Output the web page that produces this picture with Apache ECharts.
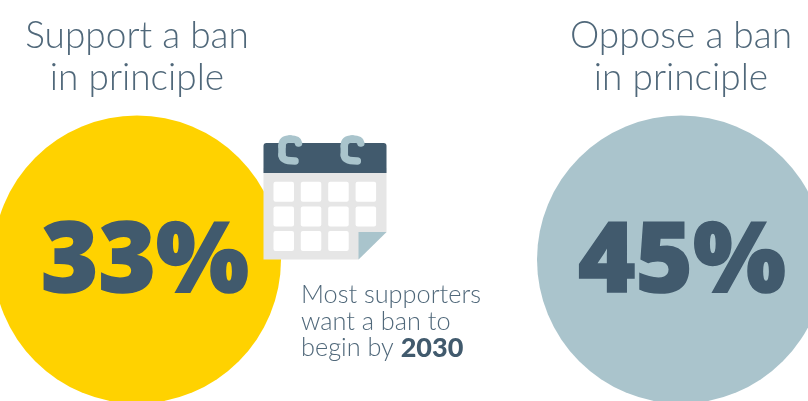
<!DOCTYPE html>
<html>
<head>
<meta charset="utf-8">
<style>
  html, body { margin: 0; padding: 0; background: #fff; }
  #main { width: 808px; height: 401px; }
</style>
<script src="https://cdn.jsdelivr.net/npm/echarts@6/dist/echarts.min.js"></script>
</head>
<body>
<div id="main"></div>
<script>
const headings = ['Support a ban\nin principle', 'Oppose a ban\nin principle']
const shares = [33, 45]
const noteLines = ['Most supporters', 'want a ban to']
const noteLast = 'begin by '
const noteYear = '2030'

const colors = ['#ffd200', '#aac4cc']
const dark = '#415a6d'
const thin = '#50687a'
const ringColor = '#a9c4cc'

const chart = echarts.init(document.getElementById('main'), null, { renderer: 'canvas' })

const circle = (i, cx) => ({
  type: 'pie',
  center: [cx, 259.5],
  radius: [0, 144],
  silent: true,
  z: 1,
  itemStyle: { color: colors[i] },
  label: { show: false },
  labelLine: { show: false },
  data: [{ name: headings[i], value: shares[i] }],
})

const heading = (i, cx) => ({
  text: headings[i],
  left: cx,
  top: 15,
  padding: 0,
  textAlign: 'center',
  textStyle: {
    fontFamily: 'Lato',
    fontWeight: 300,
    fontSize: 37,
    lineHeight: 42,
    color: thin,
  },
})

const bigNumber = (i, cx) => ({
  text: shares[i] + '%',
  left: cx,
  top: 206,
  padding: 0,
  textAlign: 'center',
  textStyle: {
    fontFamily: 'Noto Sans',
    fontWeight: 900,
    fontSize: 98,
    lineHeight: 116,
    color: dark,
    textBorderColor: dark,
    textBorderWidth: 1.5,
  },
})

// calendar icon, drawn on the canvas
const cell = (x, y) => ({
  type: 'rect',
  z: 12,
  shape: { x, y, width: 20.5, height: 20, r: 2 },
  style: { fill: '#ffffff' },
})
const cellX = [273.5, 300.8, 328.2, 355.6]
const cellY = [181.7, 206.5, 231]
const cells = []
cellY.forEach((y, r) => {
  cellX.forEach((x, c) => {
    if (r === 2 && c === 3) {
      return
    }
    cells.push(cell(x, y))
  })
})
const ringStyle = { stroke: ringColor, lineWidth: 7.5, lineCap: 'round', fill: null }
const ring = (dx) => ({
  type: 'group',
  z: 13,
  x: dx,
  children: [
    {
      type: 'bezierCurve',
      z: 13,
      shape: { x1: 282, y1: 146, cpx1: 282, cpy1: 141, cpx2: 285, cpy2: 139, x2: 290, y2: 139 },
      style: ringStyle,
    },
    {
      type: 'bezierCurve',
      z: 13,
      shape: { x1: 290, y1: 139, cpx1: 295, cpy1: 139, cpx2: 298, cpy2: 140, x2: 298.5, y2: 143 },
      style: ringStyle,
    },
    {
      type: 'line',
      z: 13,
      shape: { x1: 282, y1: 146, x2: 282, y2: 155 },
      style: ringStyle,
    },
    {
      type: 'bezierCurve',
      z: 13,
      shape: { x1: 282, y1: 155, cpx1: 282, cpy1: 159, cpx2: 286, cpy2: 161, x2: 295, y2: 161 },
      style: ringStyle,
    },
  ],
})
const calendar = [
  {
    type: 'polygon',
    z: 10,
    shape: { points: [[263.5, 168], [386.5, 168], [386.5, 232], [358.5, 259.5], [263.5, 259.5]] },
    style: { fill: '#e6e6e6' },
  },
  {
    type: 'rect',
    z: 11,
    shape: { x: 263.5, y: 143, width: 123, height: 30, r: [3, 3, 0, 0] },
    style: { fill: dark },
  },
  ...cells,
  {
    type: 'polygon',
    z: 12,
    shape: { points: [[358.5, 232], [386.5, 232], [358.5, 259.5]] },
    style: { fill: ringColor },
  },
  ring(0),
  ring(62.3),
]

const option = {
  animation: false,
  backgroundColor: '#ffffff',
  title: [
    heading(0, 137),
    heading(1, 681),
    bigNumber(0, 145),
    bigNumber(1, 682),
    {
      text: noteLines.map((l) => '{t|' + l + '}').join('\n') + '\n{t|' + noteLast + '}{b|' + noteYear + '}',
      left: 301,
      top: 282,
      padding: 0,
      textStyle: {
        rich: {
          t: { fontFamily: 'Lato', fontWeight: 300, fontSize: 25.3, lineHeight: 26.5, color: thin },
          b: { fontFamily: 'Lato', fontWeight: 900, fontSize: 27, lineHeight: 26.5, color: dark },
        },
      },
    },
  ],
  series: [circle(0, 137), circle(1, 681)],
  graphic: calendar,
}

chart.setOption(option)
</script>
</body>
</html>
